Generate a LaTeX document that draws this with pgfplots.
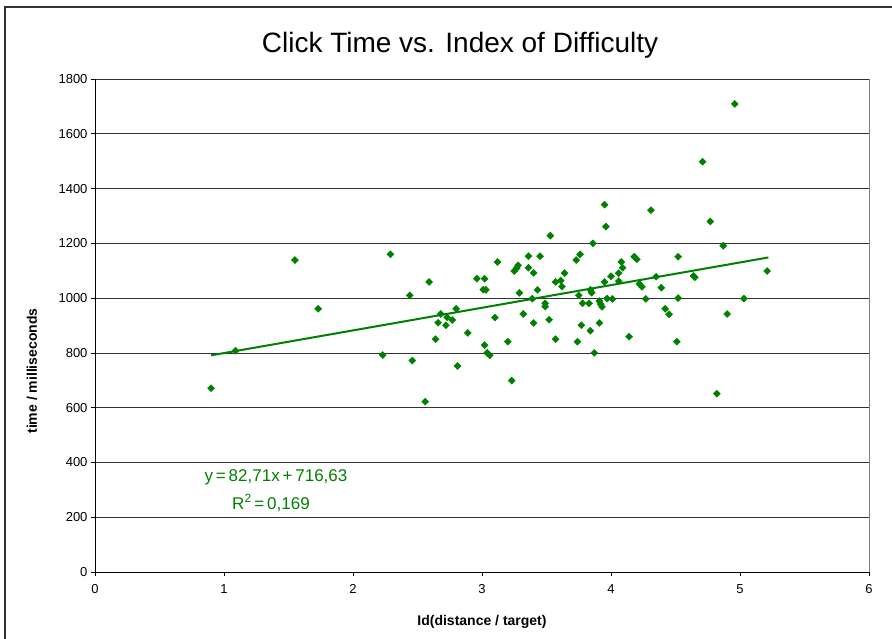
\documentclass[border=0pt]{standalone}
\usepackage{fontspec}
\setmainfont{Liberation Sans}
\usepackage{pgfplots}
\pgfplotsset{compat=1.18}
\definecolor{dgreen}{RGB}{0,128,0}
\pgfplotstableread{
x y
0.90 671
1.09 808
1.55 1139
1.73 961
2.23 792
2.29 1160
2.44 1010
2.46 772
2.56 622
2.59 1059
2.64 850
2.66 910
2.68 942
2.72 901
2.73 930
2.77 920
2.80 961
2.81 752
2.89 873
2.96 1071
3.01 1031
3.02 1071
3.02 828
3.03 1030
3.04 800
3.06 791
3.10 929
3.12 1132
3.20 841
3.23 699
3.25 1099
3.27 1110
3.28 1120
3.29 1019
3.32 942
3.36 1153
3.36 1111
3.39 998
3.40 1092
3.40 909
3.43 1030
3.45 1153
3.49 981
3.49 969
3.52 921
3.53 1228
3.57 1059
3.57 850
3.61 1064
3.62 1042
3.64 1091
3.73 1139
3.74 841
3.75 1010
3.76 1160
3.77 901
3.78 981
3.83 981
3.84 1030
3.84 881
3.85 1020
3.86 1200
3.87 800
3.91 989
3.91 909
3.92 978
3.93 968
3.95 1059
3.95 1341
3.96 1261
3.97 998
4.00 1080
4.01 997
4.06 1091
4.06 1062
4.08 1132
4.09 1111
4.14 859
4.18 1151
4.20 1142
4.22 1052
4.24 1041
4.27 997
4.31 1321
4.35 1078
4.39 1038
4.42 961
4.45 941
4.51 841
4.52 1151
4.52 1000
4.64 1081
4.65 1076
4.71 1498
4.77 1280
4.82 651
4.87 1191
4.90 942
4.96 1709
5.03 998
5.21 1099
}\datatable
\begin{document}
\begin{tikzpicture}[x=1pt,y=1pt]
\useasboundingbox (-95,-67) rectangle (797,572);
\draw[black!80, line width=1.3pt] (-90,-70) -- (-90,565) -- (800,565);
\begin{axis}[at={(0,0)}, anchor=south west, scale only axis,
  width=774pt, height=493pt,
  xmin=0, xmax=6, ymin=0, ymax=1800,
  xtick={0,1,...,6}, ytick={0,200,...,1800},
  axis x line*=bottom, axis y line*=left,
  axis line style={black, line width=0.8pt, -},
  ymajorgrids, grid style={black!80, line width=0.6pt},
  tick align=outside, major tick length=4pt,
  tick style={black, line width=0.6pt},
  ticklabel style={font=\fontsize{13}{15}\selectfont},
  xticklabel style={yshift=-5pt},
  /pgf/number format/assume math mode=true,
  /pgf/number format/1000 sep={},
  clip=false]
\draw[gray, line width=0.8pt] (axis cs:6,0) -- (axis cs:6,1800);
\addplot[only marks, mark=square*, mark size=2.5pt, mark options={rotate=45, draw=dgreen, fill=dgreen}] table[x=x,y=y] {\datatable};
\addplot[dgreen, line width=2pt, no marks] coordinates {(0.90,791.07) (5.22,1148.40)};
\end{axis}
\node[font=\fontsize{28}{32}\selectfont] at (365,527) {Click Time vs. Index of Difficulty};
\node[font=\fontsize{14}{16}\selectfont\bfseries] at (387,-50) {Id(distance / target)};
\node[font=\fontsize{14}{16}\selectfont\bfseries, rotate=90] at (-63,201) {time / milliseconds};
\node[font=\fontsize{17}{19}\selectfont, text=dgreen] at (181,95) {y\,=\,82,71x\,+\,716,63};
\node[font=\fontsize{17}{19}\selectfont, text=dgreen] at (176,69) {R\textsuperscript{2}\,=\,0,169};
\end{tikzpicture}
\end{document}
